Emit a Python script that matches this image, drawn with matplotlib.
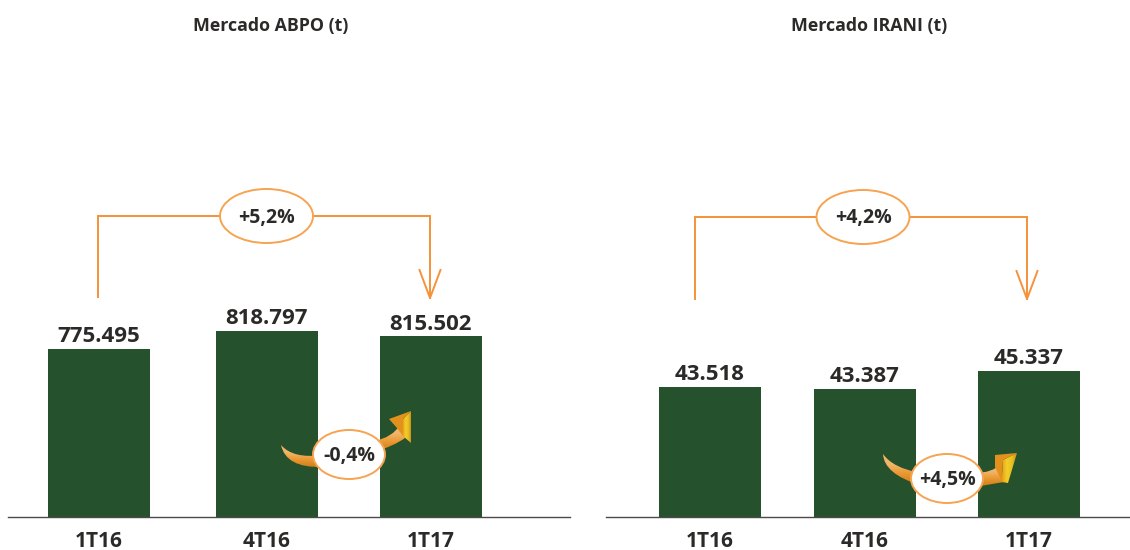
"""Mercado ABPO / IRANI volume bars with the variation callouts."""

import matplotlib

matplotlib.use("Agg")

import matplotlib.pyplot as plt
import numpy as np
from matplotlib.colors import LinearSegmentedColormap
from matplotlib.patches import Ellipse, PathPatch, Polygon
from matplotlib.path import Path

plt.rcParams["font.family"] = ["Open Sans", "DejaVu Sans"]

categories = ["1T16", "4T16", "1T17"]

abpo_labels = ["775.495", "818.797", "815.502"]
irani_labels = ["43.518", "43.387", "45.337"]

# bar heights as drawn in the picture (it is not to scale with the labels)
abpo_heights = [168, 186, 181]
irani_heights = [130, 128, 146]

abpo_x = [98.5, 267, 430.5]
irani_x = [710, 865, 1029]

GREEN = "#26512D"
ORANGE = "#F5923A"
INK = "#2B2A29"
W, H = 1130, 550
BASE_Y = 517

swoosh_cmap = LinearSegmentedColormap.from_list(
    "swoosh", ["#F3B45E", "#F2B56A", "#E8952B", "#C97C1E"]
)
head_cmap = LinearSegmentedColormap.from_list(
    "head", ["#E9A11E", "#F3CE28", "#E8C022", "#C9901E"]
)

fig = plt.figure(figsize=(W / 100, H / 100), dpi=100, facecolor="white")


def bar_panel(x0, x1, xs, heights, labels, title, title_x):
    ax = fig.add_axes((x0 / W, 1 - BASE_Y / H, (x1 - x0) / W, BASE_Y / H))
    ax.set_xlim(x0, x1)
    ax.set_ylim(0, BASE_Y)
    ax.patch.set_alpha(0)
    ax.bar(xs, heights, width=102, color=GREEN)
    for x, h, lab in zip(xs, heights, labels):
        ax.text(x, h + 1.5, lab, ha="center", va="bottom", fontsize=16,
                fontweight="bold", color=INK)
    for side in ("top", "left", "right"):
        ax.spines[side].set_visible(False)
    ax.spines["bottom"].set_color("#4A4A49")
    ax.spines["bottom"].set_linewidth(1.0)
    ax.set_yticks([])
    ax.set_xticks(xs, categories)
    ax.tick_params(axis="x", length=0, pad=10, labelsize=15, labelcolor=INK)
    for t in ax.get_xticklabels():
        t.set_fontweight("bold")
    fig.text(title_x / W, 1 - 26 / H, title, ha="center", va="center",
             fontsize=12.8, fontweight="bold", color=INK)


bar_panel(8, 570, abpo_x, abpo_heights, abpo_labels, "Mercado ABPO (t)", 271)
bar_panel(606, 1130, irani_x, irani_heights, irani_labels, "Mercado IRANI (t)", 869)

# overlay in pixel coordinates for the callouts
ov = fig.add_axes((0, 0, 1, 1), zorder=5)
ov.patch.set_alpha(0)
ov.axis("off")


def bracket(x_left, x_right, y_top, y_left, tip_y, cx, label):
    ov.plot([x_left, x_left, x_right, x_right], [y_left, y_top, y_top, tip_y],
            color=ORANGE, lw=1.4, solid_joinstyle="miter")
    ov.plot([x_right - 10.5, x_right, x_right + 10.5], [tip_y - 28, tip_y, tip_y - 28],
            color=ORANGE, lw=1.4, solid_joinstyle="miter")
    ov.add_patch(Ellipse((cx, y_top), 93, 54, fc="white", ec="#F7A350", lw=1.4, zorder=3))
    ov.text(cx, y_top + 1.5, label, ha="center", va="center", fontsize=14,
            fontweight="bold", color=INK, zorder=4)


def gradient_fill(verts, codes, cmap, horizontal=False):
    patch = PathPatch(Path(verts, codes), fc="none", ec="none", zorder=2)
    ov.add_patch(patch)
    xs = [v[0] for v in verts]
    ys = [v[1] for v in verts]
    g = np.linspace(0, 1, 64)
    g = g.reshape(1, -1) if horizontal else g.reshape(-1, 1)
    im = ov.imshow(g, cmap=cmap, aspect="auto", zorder=2,
                   extent=(min(xs), max(xs), max(ys), min(ys)))
    im.set_clip_path(patch)


def swoosh(left_tail, right_tail, yellow, orange):
    C3, L = Path.CURVE3, Path.LINETO
    gradient_fill(left_tail, [Path.MOVETO, C3, C3, L, C3, C3], swoosh_cmap)
    gradient_fill(right_tail, [Path.MOVETO, C3, C3, L, C3, C3, L], swoosh_cmap)
    gradient_fill(yellow + [yellow[0]], [Path.MOVETO] + [L] * len(yellow), head_cmap,
                  horizontal=True)
    ov.add_patch(Polygon(orange, closed=True, fc="#E2921C", ec="none", zorder=2))


def small_ellipse(cx, cy, label):
    ov.add_patch(Ellipse((cx, cy), 72, 49, fc="white", ec="#F7A350", lw=1.4, zorder=3))
    ov.text(cx, cy + 1, label, ha="center", va="center", fontsize=14,
            fontweight="bold", color=INK, zorder=4)


bracket(98, 430, 216, 297, 298, 266.5, "+5,2%")
bracket(695, 1027, 217, 299, 299, 863, "+4,2%")

swoosh(
    [(281, 445), (286, 468), (322, 467), (322, 455), (293, 459), (281, 445)],
    [(374, 441), (392, 438), (401, 424), (405, 438), (394, 446), (374, 452), (374, 441)],
    [(403, 419), (411, 411), (411, 443), (403, 436)],
    [(389, 419), (411, 411), (403, 419), (403, 436), (397, 428)],
)
small_ellipse(349, 454.5, "-0,4%")

swoosh(
    [(883, 454), (884, 474), (920, 485), (920, 473), (893, 468), (883, 454)],
    [(975, 473), (992, 473), (1001, 464), (1004, 482), (992, 484), (975, 487), (975, 473)],
    [(1003, 460), (1017, 453), (1008, 483), (1002, 482)],
    [(995, 455), (1017, 453), (1003, 460), (1002, 482), (995, 467)],
)
small_ellipse(947, 478.5, "+4,5%")

ov.set_xlim(0, W)
ov.set_ylim(H, 0)

fig.savefig("out.png", dpi=100, facecolor="white")
plt.close(fig)
